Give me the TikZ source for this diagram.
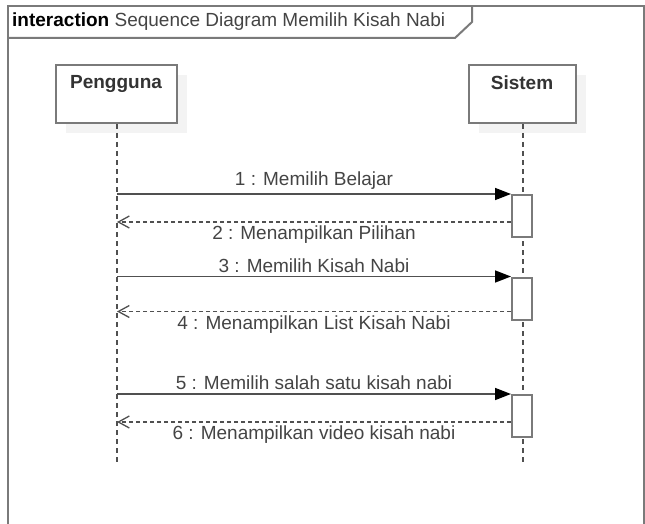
\documentclass[tikz,border=0pt]{standalone}
\usepackage{fontspec}
\setmainfont{Liberation Sans}
\usetikzlibrary{arrows.meta,positioning,shadows}
\definecolor{linegray}{HTML}{505050}
\definecolor{boxgray}{HTML}{7A7A7A}
\definecolor{txtgray}{HTML}{444444}
\definecolor{shadowgray}{HTML}{F3F3F3}

\begin{document}
\begin{tikzpicture}[x=1pt,y=-1pt,
    every node/.style={font=\fontsize{19}{22}\selectfont,text=txtgray},
    frame/.style={draw=boxgray,line width=2pt},
    actor/.style={draw=boxgray,line width=2pt,fill=white,minimum width=#1,minimum height=58pt,
        drop shadow={shadow xshift=10pt,shadow yshift=-10pt,fill=shadowgray,opacity=1}},
    actname/.style={font=\fontsize{19}{22}\selectfont\bfseries,text=black!80},
    life/.style={draw=linegray,line width=1.3pt,dash pattern=on 5pt off 4pt},
    act/.style={draw=boxgray,line width=2pt,fill=white,minimum width=20pt,minimum height=42pt,inner sep=0pt},
    call/.style={draw=linegray,line width=1.6pt,-{Triangle[length=16pt,width=12pt,color=black]}},
    reply/.style={draw=linegray,line width=1.3pt,dash pattern=on 4pt off 3pt,
        -{Straight Barb[length=11pt,width=12pt,line width=1.3pt]}}]
    \useasboundingbox (0,0) rectangle (645,524);

    % frame
    \draw[frame] (8,524) -- (8,6) -- (644,6) -- (644,524);
    \draw[frame] (8,38) -- (455,38) -- (472,22) -- (472,6);
    \node[anchor=west,inner sep=0pt] (title) at (12,22) {\textcolor{black}{\textbf{interaction}} Sequence Diagram Memilih Kisah Nabi};

    % participants
    \node[actor=121pt] (pengguna) at (116,94) {};
    \node[actor=107pt] (sistem) at (522,94) {};
    \node[actname,below=8pt of pengguna.north] (pengguna-name) {Pengguna};
    \node[actname,below=8pt of sistem.north] (sistem-name) {Sistem};

    \coordinate (pengguna-end) at (117,465);
    \coordinate (sistem-end) at (523,465);
    \draw[life] (pengguna.south -| pengguna-end) -- (pengguna-end);
    \draw[life] (sistem.south -| sistem-end) -- (sistem-end);

    % activations
    \node[act] (act1) at (522,216) {};
    \node[act] (act2) at (522,298.5) {};
    \node[act] (act3) at (522,416) {};

    % messages
    \draw[call] (act1.north west -| pengguna-end) -- node[above]{1 : Memilih Belajar} (act1.north west);
    \path ([yshift=-28pt]act1.north west) coordinate (ret1);
    \draw[reply] (ret1) -- node[below]{2 : Menampilkan Pilihan} (ret1 -| pengguna-end);

    \draw[call] (act2.north west -| pengguna-end) -- node[above]{3 : Memilih Kisah Nabi} (act2.north west);
    \path ([yshift=-35pt]act2.north west) coordinate (ret2);
    \draw[reply] (ret2) -- node[below]{4 : Menampilkan List Kisah Nabi} (ret2 -| pengguna-end);

    \draw[call] (act3.north west -| pengguna-end) -- node[above]{5 : Memilih salah satu kisah nabi} (act3.north west);
    \path ([yshift=-28pt]act3.north west) coordinate (ret3);
    \draw[reply] (ret3) -- node[below]{6 : Menampilkan video kisah nabi} (ret3 -| pengguna-end);
\end{tikzpicture}
\end{document}
